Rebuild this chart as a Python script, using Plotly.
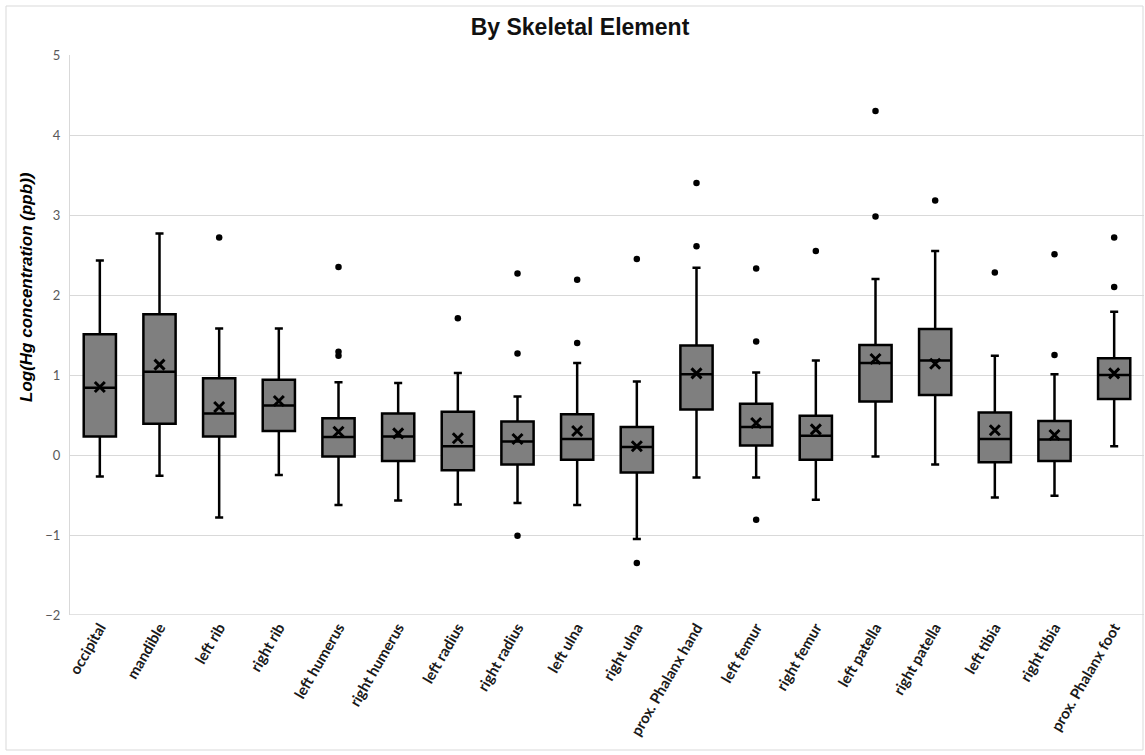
import plotly.graph_objects as go

categories = ["occipital", "mandible", "left rib", "right rib", "left humerus",
              "right humerus", "left radius", "right radius", "left ulna", "right ulna",
              "prox. Phalanx hand", "left femur", "right femur", "left patella",
              "right patella", "left tibia", "right tibia", "prox. Phalanx foot"]

lower_whisker = [-0.27, -0.26, -0.78, -0.25, -0.625, -0.57, -0.62, -0.60, -0.625, -1.05,
                 -0.28, -0.28, -0.56, -0.02, -0.12, -0.53, -0.51, 0.11]
q1 = [0.23, 0.39, 0.23, 0.30, -0.02, -0.075, -0.19, -0.12, -0.06, -0.22,
      0.57, 0.12, -0.06, 0.67, 0.75, -0.09, -0.075, 0.70]
median = [0.84, 1.04, 0.52, 0.62, 0.225, 0.23, 0.11, 0.17, 0.20, 0.10,
          1.01, 0.35, 0.24, 1.15, 1.18, 0.20, 0.195, 1.00]
q3 = [1.51, 1.76, 0.96, 0.94, 0.46, 0.52, 0.54, 0.42, 0.51, 0.35,
      1.37, 0.64, 0.49, 1.375, 1.575, 0.53, 0.425, 1.21]
upper_whisker = [2.43, 2.77, 1.58, 1.58, 0.91, 0.90, 1.025, 0.73, 1.15, 0.92,
                 2.34, 1.03, 1.18, 2.20, 2.55, 1.24, 1.01, 1.79]
mean = [0.85, 1.13, 0.60, 0.675, 0.29, 0.27, 0.21, 0.20, 0.30, 0.11,
        1.02, 0.40, 0.32, 1.20, 1.14, 0.31, 0.25, 1.02]

outlier_category = ["left rib", "left humerus", "left humerus", "left humerus",
                    "left radius", "right radius", "right radius", "right radius",
                    "left ulna", "left ulna", "right ulna", "right ulna",
                    "prox. Phalanx hand", "prox. Phalanx hand",
                    "left femur", "left femur", "left femur", "right femur",
                    "left patella", "left patella", "right patella", "left tibia",
                    "right tibia", "right tibia", "prox. Phalanx foot", "prox. Phalanx foot"]
outlier_value = [2.72, 2.35, 1.29, 1.24,
                 1.71, 2.27, 1.27, -1.01,
                 2.19, 1.40, 2.45, -1.35,
                 3.40, 2.61,
                 2.33, 1.42, -0.81, 2.55,
                 4.30, 2.98, 3.18, 2.28,
                 2.51, 1.25, 2.72, 2.10]

y_ticks = [-2, -1, 0, 1, 2, 3, 4, 5]

fig = go.Figure()

fig.add_trace(go.Box(
    x=categories,
    q1=q1, median=median, q3=q3,
    lowerfence=lower_whisker, upperfence=upper_whisker,
    fillcolor="#7f7f7f",
    line=dict(color="black", width=2.5),
    whiskerwidth=0.25,
    boxpoints=False,
    width=0.54,
    showlegend=False,
    hoverinfo="skip",
))

fig.add_trace(go.Scatter(
    x=categories, y=mean, mode="markers",
    marker=dict(symbol="x-thin", size=10, color="black",
                line=dict(color="black", width=3)),
    showlegend=False, hoverinfo="skip",
))

fig.add_trace(go.Scatter(
    x=outlier_category, y=outlier_value, mode="markers",
    marker=dict(symbol="circle", size=6.5, color="black"),
    showlegend=False, hoverinfo="skip",
))

fig.update_layout(
    width=1145, height=755,
    margin=dict(l=70, r=1, t=55, b=140),
    paper_bgcolor="white", plot_bgcolor="white",
    title=dict(text="<b>By Skeletal Element</b>", x=580 / 1145, xanchor="center",
               y=1 - 27 / 755, yanchor="middle",
               font=dict(family="Liberation Sans, Arial", size=23, color="#111111")),
    xaxis=dict(
        type="category",
        categoryorder="array", categoryarray=categories,
        range=[-0.5, len(categories) - 0.5],
        tickangle=-60,
        tickfont=dict(family="Lato, Carlito, Open Sans", size=15, color="#1a1a1a", weight="bold"),
        showgrid=False, showline=False, zeroline=False,
        ticks="",
    ),
    yaxis=dict(
        range=[-2, 5], tickvals=y_ticks,
        tickfont=dict(family="Lato, Carlito, Open Sans", size=13, color="#595959"),
        showgrid=True, gridcolor="#d9d9d9", gridwidth=1,
        zeroline=False,
        showline=True, linecolor="#d9d9d9", linewidth=1,
        ticks="outside", ticklen=6, tickcolor="rgba(0,0,0,0)",
    ),
    shapes=[
        dict(type="rect", xref="paper", yref="paper",
             x0=(6 - 70) / 1074, x1=(1143 - 70) / 1074,
             y0=-(750 - 615) / 560, y1=1 + (55 - 6) / 560,
             line=dict(color="#d9d9d9", width=1), layer="below"),
        dict(type="line", xref="paper", yref="y", x0=0, x1=1, y0=-2, y1=-2,
             line=dict(color="#d9d9d9", width=1.5), layer="below"),
    ],
    annotations=[
        dict(text="<b><i>Log(Hg concentration (ppb))</i></b>", textangle=-90,
             xref="paper", yref="paper",
             x=(26 - 70) / 1074, y=(615 - 287) / 560,
             xanchor="center", yanchor="middle", showarrow=False,
             font=dict(family="Liberation Sans, Arial", size=17, color="black")),
    ],
)

fig.write_html("out.html", config={"displayModeBar": False},
               post_script="document.body.style.margin='0';document.body.style.overflow='hidden';")
